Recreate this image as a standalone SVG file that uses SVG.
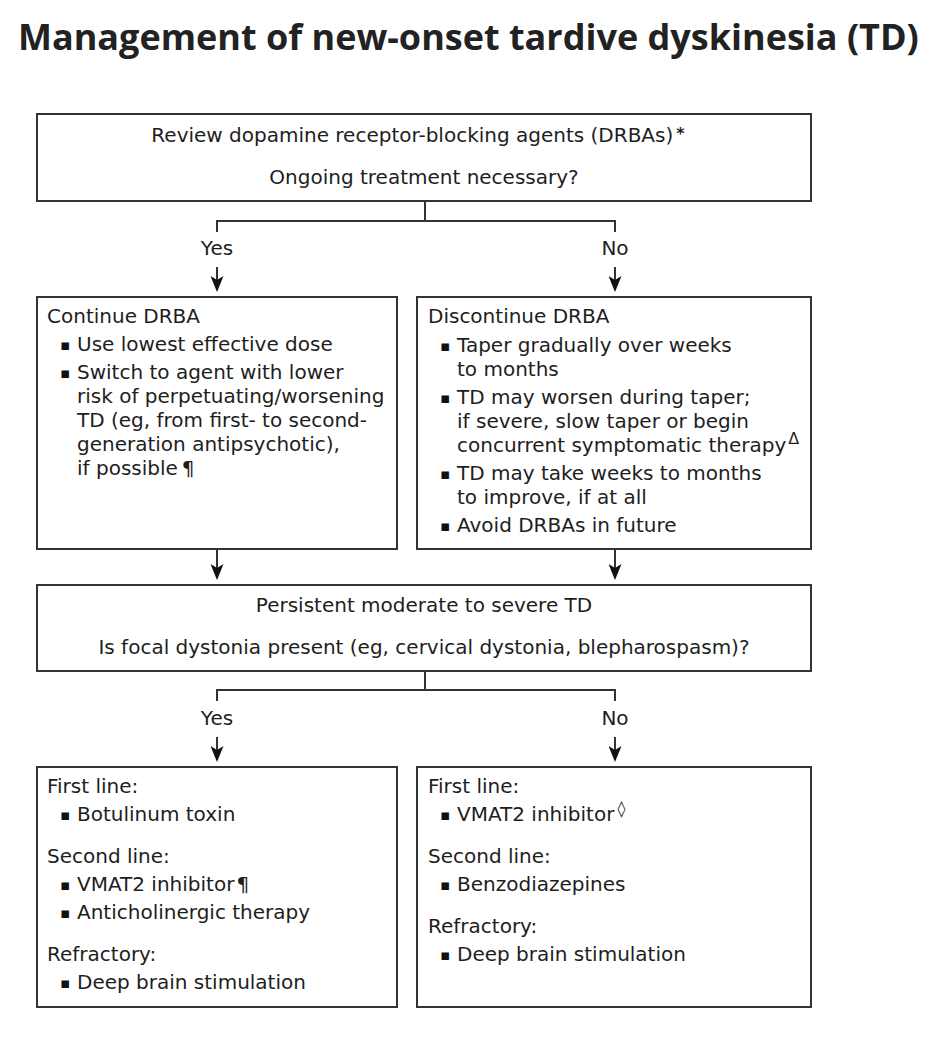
<svg xmlns="http://www.w3.org/2000/svg" width="932" height="1050" viewBox="0 0 932 1050">
<style>
.bg{fill:#ffffff}
.title{font-family:"Open Sans","Noto Sans","Liberation Sans",sans-serif;font-weight:700;font-size:36px;fill:#222222}
.box{fill:#ffffff;stroke:#333333;stroke-width:2}
.t{font-family:"DejaVu Sans","Liberation Sans",sans-serif;font-size:20px;fill:#1e1e1e}
.c{text-anchor:middle}
.b{font-family:"DejaVu Sans","Liberation Sans",sans-serif;font-size:15px;fill:#111111}
.sup{font-size:16px}
.line{fill:none;stroke:#333333;stroke-width:2}
</style>
<defs>
<marker id="arr" viewBox="0 0 16 13" refX="12" refY="6.5" markerWidth="16" markerHeight="13" markerUnits="userSpaceOnUse" orient="auto">
<path d="M0,0 L16,6.5 L0,13 L4,6.5 z" fill="#111111"/>
</marker>
</defs>
<rect class="bg" x="0" y="0" width="932" height="1050"/>
<text class="title" x="18" y="50">Management of new-onset tardive dyskinesia (TD)</text>

<g id="connectors">
<path class="line" d="M425,201 V221 M217,232 V221 H615 V232"/>
<line class="line" x1="217" y1="267" x2="217" y2="288" marker-end="url(#arr)"/>
<line class="line" x1="615" y1="267" x2="615" y2="288" marker-end="url(#arr)"/>
<line class="line" x1="217" y1="549" x2="217" y2="576" marker-end="url(#arr)"/>
<line class="line" x1="615" y1="549" x2="615" y2="576" marker-end="url(#arr)"/>
<path class="line" d="M425,671 V690 M217,701 V690 H615 V701"/>
<line class="line" x1="217" y1="737" x2="217" y2="758" marker-end="url(#arr)"/>
<line class="line" x1="615" y1="737" x2="615" y2="758" marker-end="url(#arr)"/>
<text class="t c" x="217" y="255">Yes</text>
<text class="t c" x="615" y="255">No</text>
<text class="t c" x="217" y="725">Yes</text>
<text class="t c" x="615" y="725">No</text>
</g>

<g id="review">
<rect class="box" x="37" y="114" width="774" height="87"/>
<text class="t c" x="418" y="141.5">Review dopamine receptor-blocking agents (DRBAs)<tspan class="sup" dx="3" dy="-3" font-weight="700">*</tspan></text>
<text class="t c" x="424" y="183.5">Ongoing treatment necessary?</text>
</g>

<g id="continue">
<rect class="box" x="37" y="297" width="360" height="252"/>
<text class="t" x="47" y="323">Continue DRBA</text>
<text class="b" x="60" y="350">▪</text>
<text class="t" x="77" y="351">Use lowest effective dose</text>
<text class="b" x="60" y="378">▪</text>
<text class="t" x="77" y="379">Switch to agent with lower</text>
<text class="t" x="77" y="403">risk of perpetuating/worsening</text>
<text class="t" x="77" y="427">TD (eg, from first- to second-</text>
<text class="t" x="77" y="451">generation antipsychotic),</text>
<text class="t" x="77" y="475">if possible<tspan dx="4">¶</tspan></text>
</g>

<g id="discontinue">
<rect class="box" x="417" y="297" width="394" height="252"/>
<text class="t" x="428" y="323">Discontinue DRBA</text>
<text class="b" x="440" y="351">▪</text>
<text class="t" x="457" y="352">Taper gradually over weeks</text>
<text class="t" x="457" y="376">to months</text>
<text class="b" x="440" y="403">▪</text>
<text class="t" x="457" y="404">TD may worsen during taper;</text>
<text class="t" x="457" y="428">if severe, slow taper or begin</text>
<text class="t" x="457" y="452">concurrent symptomatic therapy<tspan class="sup" dx="2" dy="-8">Δ</tspan></text>
<text class="b" x="440" y="479">▪</text>
<text class="t" x="457" y="480">TD may take weeks to months</text>
<text class="t" x="457" y="504">to improve, if at all</text>
<text class="b" x="440" y="531">▪</text>
<text class="t" x="457" y="532">Avoid DRBAs in future</text>
</g>

<g id="persistent">
<rect class="box" x="37" y="585" width="774" height="86"/>
<text class="t c" x="424" y="611.5">Persistent moderate to severe TD</text>
<text class="t c" x="424" y="654">Is focal dystonia present (eg, cervical dystonia, blepharospasm)?</text>
</g>

<g id="dystonia-yes">
<rect class="box" x="37" y="767" width="360" height="240"/>
<text class="t" x="47" y="793">First line:</text>
<text class="b" x="60" y="820">▪</text>
<text class="t" x="77" y="821">Botulinum toxin</text>
<text class="t" x="47" y="863">Second line:</text>
<text class="b" x="60" y="890">▪</text>
<text class="t" x="77" y="891">VMAT2 inhibitor<tspan dx="2">¶</tspan></text>
<text class="b" x="60" y="918">▪</text>
<text class="t" x="77" y="919">Anticholinergic therapy</text>
<text class="t" x="47" y="961">Refractory:</text>
<text class="b" x="60" y="988">▪</text>
<text class="t" x="77" y="989">Deep brain stimulation</text>
</g>

<g id="dystonia-no">
<rect class="box" x="417" y="767" width="394" height="240"/>
<text class="t" x="428" y="793">First line:</text>
<text class="b" x="440" y="820">▪</text>
<text class="t" x="457" y="821">VMAT2 inhibitor<tspan class="sup" dx="3" dy="-7">◊</tspan></text>
<text class="t" x="428" y="863">Second line:</text>
<text class="b" x="440" y="890">▪</text>
<text class="t" x="457" y="891">Benzodiazepines</text>
<text class="t" x="428" y="933">Refractory:</text>
<text class="b" x="440" y="960">▪</text>
<text class="t" x="457" y="961">Deep brain stimulation</text>
</g>
</svg>
